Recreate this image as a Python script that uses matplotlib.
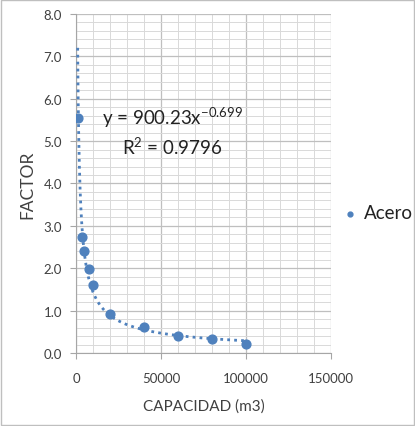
import numpy as np
import matplotlib
matplotlib.use("Agg")
import matplotlib.pyplot as plt
from matplotlib.ticker import MultipleLocator, FormatStrFormatter

capacidad = [1000, 3500, 5000, 7500, 10000, 20000, 40000, 60000, 80000, 100000]
factor = [5.55, 2.74, 2.41, 1.97, 1.61, 0.93, 0.62, 0.41, 0.34, 0.22]
coef_a = 900.23
coef_b = -0.699
r2 = 0.9796

blue = "#4F81BD"
grid_c = "#D9D9D9"

plt.rcParams["font.family"] = ["Lato", "DejaVu Sans"]
plt.rcParams["mathtext.fontset"] = "custom"
plt.rcParams["mathtext.rm"] = "Lato"
plt.rcParams["mathtext.it"] = "Lato"
plt.rcParams["mathtext.default"] = "regular"

fig = plt.figure(figsize=(4.15, 4.27), dpi=100)
ax = fig.add_axes([0.183, 0.171, 0.615, 0.794])

# trendline (power fit)
xt = np.linspace(min(capacidad), max(capacidad), 2000)
ax.plot(xt, coef_a * xt ** coef_b, ls=(0, (1, 1.5)), lw=2, c=blue, zorder=3)
ax.scatter(capacidad, factor, s=40, c=blue, zorder=4, label="Acero")

ax.set_xlim(0, 150000)
ax.set_ylim(0, 8)
ax.xaxis.set_major_locator(MultipleLocator(50000))
ax.xaxis.set_minor_locator(MultipleLocator(10000))
ax.yaxis.set_major_locator(MultipleLocator(1))
ax.yaxis.set_minor_locator(MultipleLocator(0.2))
ax.yaxis.set_major_formatter(FormatStrFormatter("%.1f"))
ax.grid(which="major", c="#BFBFBF", lw=0.9)
ax.grid(which="minor", c=grid_c, lw=0.7)
ax.set_axisbelow(True)
for s in ["top", "right"]:
    ax.spines[s].set_visible(False)
for s in ["left", "bottom"]:
    ax.spines[s].set_color("#A6A6A6")
ax.tick_params(which="major", length=4, color="#A6A6A6", labelsize=9.5,
               labelcolor="#404040")
ax.tick_params(axis="y", pad=6)
ax.tick_params(axis="x", pad=10)
ax.tick_params(which="minor", length=0)

ax.set_xlabel("CAPACIDAD (m3)", fontsize=11, color="#404040", labelpad=10)
ax.set_ylabel("FACTOR", fontsize=12.5, color="#404040", labelpad=6)

eq = "y = 900.23x$^{-0.699}$"
ax.text(56500, 5.57, eq, fontsize=13.5, color="#222222",
        ha="center", va="center")
ax.text(56500, 4.88, "R$^2$ = 0.9796", fontsize=13.5, color="#222222",
        ha="center", va="center")

fig.legend(loc="center left", bbox_to_anchor=(0.828, 0.499), frameon=False,
           fontsize=13.5, borderpad=0, borderaxespad=0, handlelength=0.7,
           handletextpad=0.4, markerscale=0.55, labelcolor="#222222")

fig.patches.append(plt.Rectangle((0.002, 0.002), 0.996, 0.996,
                                 transform=fig.transFigure, fill=False,
                                 ec="#BFBFBF", lw=1))

fig.savefig("out.png", dpi=100)
